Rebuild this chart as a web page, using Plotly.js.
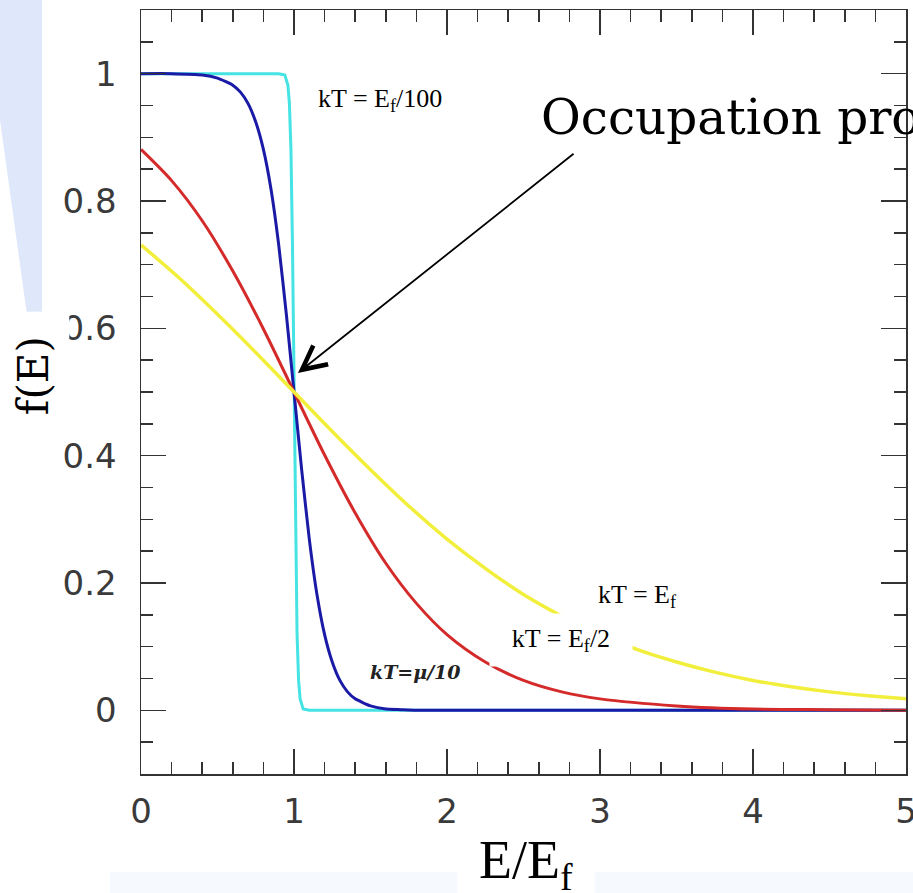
<!DOCTYPE html>
<html>
<head>
<meta charset="utf-8">
<script src="https://cdn.plot.ly/plotly-3.0.1.min.js"></script>
<style>html,body{margin:0;padding:0;background:#fff;}#chart{width:913px;height:893px;}</style>
</head>
<body>
<div id="chart"></div>
<script>
// kT = Ef/100 (cyan)
const xCyan = [0, 0.5, 0.9, 0.94, 0.96, 0.97, 0.98, 0.99, 1.0, 1.01, 1.02, 1.03, 1.04, 1.06, 1.1, 2, 3, 4, 5];
const yCyan = [1, 1, 1, 0.998, 0.982, 0.953, 0.881, 0.731, 0.5, 0.269, 0.119, 0.047, 0.018, 0.002, 0, 0, 0, 0, 0];
// kT = Ef/10 (blue)
const xBlue = [0, 0.2, 0.4, 0.5, 0.6, 0.65, 0.7, 0.75, 0.8, 0.85, 0.9, 0.95, 1.0, 1.05, 1.1, 1.15, 1.2, 1.25, 1.3, 1.35, 1.4, 1.5, 1.6, 1.7, 1.8, 2, 3, 4, 5];
const yBlue = [1.0, 1.0, 0.998, 0.993, 0.982, 0.971, 0.953, 0.924, 0.881, 0.818, 0.731, 0.622, 0.5, 0.378, 0.269, 0.182, 0.119, 0.076, 0.047, 0.029, 0.018, 0.007, 0.002, 0.001, 0, 0, 0, 0, 0];
// kT = Ef/2 (red)
const xRed = [0, 0.2, 0.4, 0.6, 0.8, 1.0, 1.2, 1.4, 1.6, 1.8, 2.0, 2.25, 2.5, 2.75, 3.0, 3.5, 4, 4.5, 5];
const yRed = [0.881, 0.832, 0.769, 0.690, 0.599, 0.5, 0.401, 0.310, 0.231, 0.168, 0.119, 0.076, 0.047, 0.029, 0.018, 0.007, 0.002, 0.001, 0];
// kT = Ef (yellow)
const xYellow = [0, 0.25, 0.5, 0.75, 1, 1.25, 1.5, 1.75, 2, 2.25, 2.5, 2.75, 3, 3.25, 3.5, 3.75, 4, 4.25, 4.5, 4.75, 5];
const yYellow = [0.731, 0.679, 0.622, 0.562, 0.5, 0.438, 0.378, 0.321, 0.269, 0.223, 0.182, 0.148, 0.119, 0.095, 0.076, 0.060, 0.047, 0.037, 0.029, 0.023, 0.018];

const yTickVals = [0, 0.2, 0.4, 0.6, 0.8, 1];
const yTickText = ["0", "0.2", "0.4", "0.6", "0.8", "1"];
const xTickVals = [0, 1, 2, 3, 4, 5];
const xTickText = ["0", "1", "2", "3", "4", "5"];

const traces = [
  {x: xCyan, y: yCyan, mode: 'lines', line: {color: '#45e3e3', width: 3}, name: 'kT = Ef/100'},
  {x: xBlue, y: yBlue, mode: 'lines', line: {color: '#1a1aa6', width: 3, shape: 'spline', smoothing: 0.5}, name: 'kT = Ef/10'},
  {x: xRed, y: yRed, mode: 'lines', line: {color: '#d42a2a', width: 3, shape: 'spline', smoothing: 0.8}, name: 'kT = Ef/2'},
  {x: xYellow, y: yYellow, mode: 'lines', line: {color: '#f2ef3c', width: 3.5, shape: 'spline', smoothing: 0.8}, name: 'kT = Ef'}
];

const axisCommon = {
  showgrid: false, zeroline: false, showline: true, linecolor: '#333', linewidth: 1.5,
  ticks: 'inside', ticklen: 25, tickwidth: 1.5, tickcolor: '#333', mirror: 'ticks',
  tickfont: {family: 'DejaVu Sans', size: 34, color: '#3a3a3a'}, automargin: false,
  ticklabeloverflow: 'allow', fixedrange: true
};

const layout = {
  width: 913, height: 893,
  margin: {l: 141, r: 7, t: 10, b: 119},
  paper_bgcolor: '#ffffff', plot_bgcolor: '#ffffff',
  showlegend: false,
  xaxis: Object.assign({}, axisCommon, {
    range: [0, 5], tickvals: xTickVals, ticktext: xTickText, ticklabelstandoff: 7,
    minor: {dtick: 0.2, tick0: 0, ticks: 'inside', ticklen: 12, tickwidth: 1.5, tickcolor: '#333', showgrid: false}
  }),
  yaxis: Object.assign({}, axisCommon, {
    range: [-0.1, 1.1], tickvals: yTickVals, ticktext: yTickText, ticklabelstandoff: 16,
    minor: {dtick: 0.05, tick0: 0, ticks: 'inside', ticklen: 12, tickwidth: 1.5, tickcolor: '#333', showgrid: false}
  }),
  shapes: [
    {type: 'path', xref: 'paper', yref: 'paper', layer: 'below', line: {width: 0},
     fillcolor: '#dfe7fb',
     path: 'M -0.18431 1.01309 L -0.12941 1.01309 L -0.12941 0.60079 L -0.14902 0.60079 L -0.18431 0.85602 Z'},
    {type: 'rect', xref: 'paper', yref: 'paper', layer: 'below', line: {width: 0}, fillcolor: '#f6f9fe',
     x0: -0.0405, x1: 0.4144, y0: -0.1283, y1: -0.1600},
    {type: 'rect', xref: 'paper', yref: 'paper', layer: 'below', line: {width: 0}, fillcolor: '#f6f9fe',
     x0: 0.5895, x1: 1.0200, y0: -0.1283, y1: -0.1600}
  ],
  annotations: [
    // arrow
    {x: 1.026, y: 0.53, ax: 2.837, ay: 0.876, axref: 'x', ayref: 'y', xref: 'x', yref: 'y',
     text: '', showarrow: true, arrowhead: 5, arrowsize: 2.6, arrowwidth: 1.8, arrowcolor: '#000', standoff: 0},
    {x: 0.52, y: 0.932, xref: 'paper', yref: 'y', xanchor: 'left', yanchor: 'middle',
     text: 'Occupation probability', showarrow: false,
     font: {family: 'DejaVu Serif', size: 48.5, color: '#000'}},
    {x: 1.562, y: 0.958, xref: 'x', yref: 'y', xanchor: 'center', yanchor: 'middle',
     text: 'kT = E<sub>f</sub>/100', showarrow: false,
     font: {family: 'Liberation Serif', size: 26, color: '#000'}},
    {x: 3.242, y: 0.179, xref: 'x', yref: 'y', xanchor: 'center', yanchor: 'middle',
     text: 'kT = E<sub>f</sub>', showarrow: false,
     font: {family: 'Liberation Serif', size: 26, color: '#000'}},
    {x: 2.745, y: 0.11, xref: 'x', yref: 'y', xanchor: 'center', yanchor: 'middle',
     text: 'kT = E<sub>f</sub>/2', showarrow: false, bgcolor: '#ffffff', width: 140, height: 50,
     font: {family: 'Liberation Serif', size: 26, color: '#000'}},
    {x: 1.791, y: 0.06, xref: 'x', yref: 'y', xanchor: 'center', yanchor: 'middle',
     text: '<b><i>kT=μ/10</i></b>', showarrow: false,
     font: {family: 'DejaVu Serif', size: 19, color: '#222'}},
    // y axis title
    {x: -0.1399, y: 0.522, xref: 'paper', yref: 'paper', xanchor: 'center', yanchor: 'middle',
     text: 'f(E)', textangle: -90, showarrow: false, bgcolor: '#ffffff', width: 125, height: 68,
     font: {family: 'DejaVu Serif', size: 42, color: '#000'}},
    // x axis title
    {x: 0.503, y: -0.118, xref: 'paper', yref: 'paper', xanchor: 'center', yanchor: 'middle',
     text: 'E/E<sub>f</sub>', showarrow: false, bgcolor: '#ffffff', width: 134, height: 66,
     font: {family: 'Liberation Serif', size: 54, color: '#000'}}
  ]
};

Plotly.newPlot('chart', traces, layout, {displayModeBar: false, staticPlot: true});
</script>
</body>
</html>
